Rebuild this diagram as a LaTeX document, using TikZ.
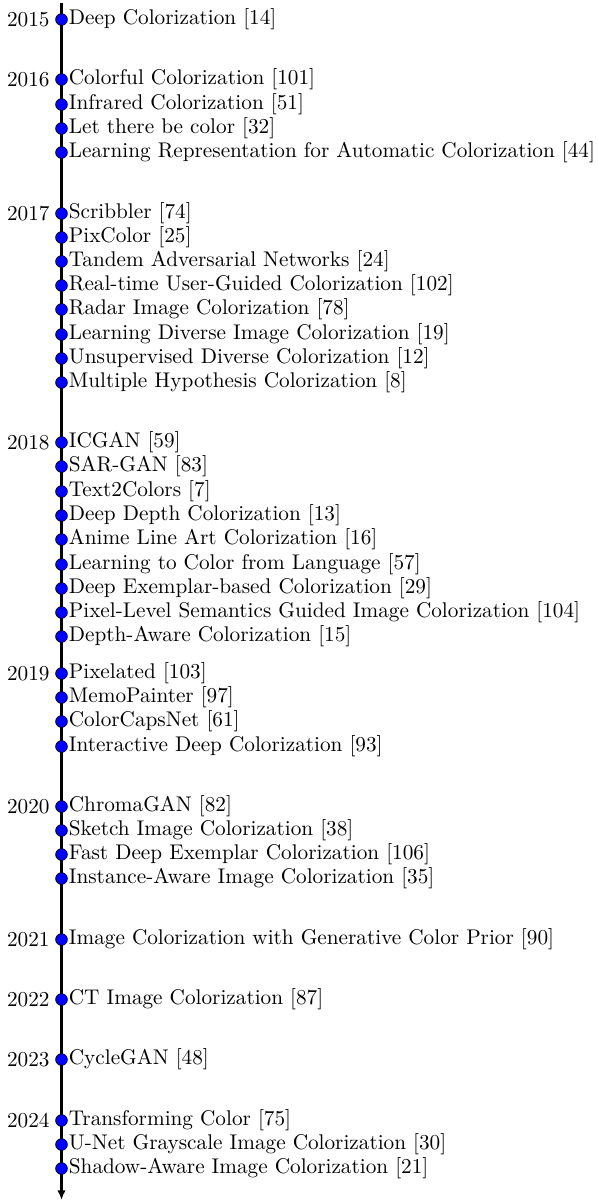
\documentclass[tikz,border=0pt]{standalone}
\usetikzlibrary{arrows.meta}
\begin{document}
\begin{tikzpicture}[x=0.5pt,y=-0.5pt,
  dot/.style={circle,fill=blue,draw=black,line width=0.3pt,minimum size=5.9pt,inner sep=0pt},
  item/.style={anchor=west,inner sep=0pt,font=\fontsize{10.62}{12}\selectfont},
  yearlab/.style={anchor=east,inner sep=0pt,font=\fontsize{10.62}{12}\selectfont},
  axis/.style={line width=1.6pt,-{Latex[length=4.8pt,width=4.2pt]}}]
\useasboundingbox (0,0) rectangle (598,1201);
\coordinate (top) at (61.5,3);
\coordinate (bottom) at (61.5,1200);
\draw[axis] (top) -- (bottom);
\begin{scope}[yshift=-0.75pt]
% year labels
\node[yearlab] (y2015) at (50,18) {2015};
\node[yearlab] (y2016) at (50,78) {2016};
\node[yearlab] (y2017) at (50,212) {2017};
\node[yearlab] (y2018) at (50,441) {2018};
\node[yearlab] (y2019) at (50,672) {2019};
\node[yearlab] (y2020) at (50,805) {2020};
\node[yearlab] (y2021) at (50,938) {2021};
\node[yearlab] (y2022) at (50,998) {2022};
\node[yearlab] (y2023) at (50,1058) {2023};
\node[yearlab] (y2024) at (50,1119) {2024};
% entries: marker and title
\foreach \n/\y/\t in {
  a1/18/{Deep Colorization [14]},
  b1/78/{Colorful Colorization [101]},
  b2/103/{Infrared Colorization [51]},
  b3/127/{Let there be color [32]},
  b4/151/{Learning Representation for Automatic Colorization [44]},
  c1/212/{Scribbler [74]},
  c2/236/{PixColor [25]},
  c3/260/{Tandem Adversarial Networks [24]},
  c4/284/{Real-time User-Guided Colorization [102]},
  c5/308/{Radar Image Colorization [78]},
  c6/333/{Learning Diverse Image Colorization [19]},
  c7/357/{Unsupervised Diverse Colorization [12]},
  c8/381/{Multiple Hypothesis Colorization [8]},
  d1/441/{ICGAN [59]},
  d2/465/{SAR-GAN [83]},
  d3/490/{Text2Colors [7]},
  d4/514/{Deep Depth Colorization [13]},
  d5/538/{Anime Line Art Colorization [16]},
  d6/563/{Learning to Color from Language [57]},
  d7/587/{Deep Exemplar-based Colorization [29]},
  d8/611/{Pixel-Level Semantics Guided Image Colorization [104]},
  d9/635/{Depth-Aware Colorization [15]},
  e1/672/{Pixelated [103]},
  e2/696/{MemoPainter [97]},
  e3/720/{ColorCapsNet [61]},
  e4/745/{Interactive Deep Colorization [93]},
  f1/805/{ChromaGAN [82]},
  f2/829/{Sketch Image Colorization [38]},
  f3/853/{Fast Deep Exemplar Colorization [106]},
  f4/877/{Instance-Aware Image Colorization [35]},
  g1/938/{Image Colorization with Generative Color Prior [90]},
  h1/998/{CT Image Colorization [87]},
  i1/1058/{CycleGAN [48]},
  j1/1119/{Transforming Color [75]},
  j2/1143/{U-Net Grayscale Image Colorization [30]},
  j3/1167/{Shadow-Aware Image Colorization [21]}} {
  \node[dot] (m-\n) at (61.5,\y) {};
  \node[item] (t-\n) at (68.5,\y) {\t};
}
\end{scope}
\end{tikzpicture}
\end{document}
